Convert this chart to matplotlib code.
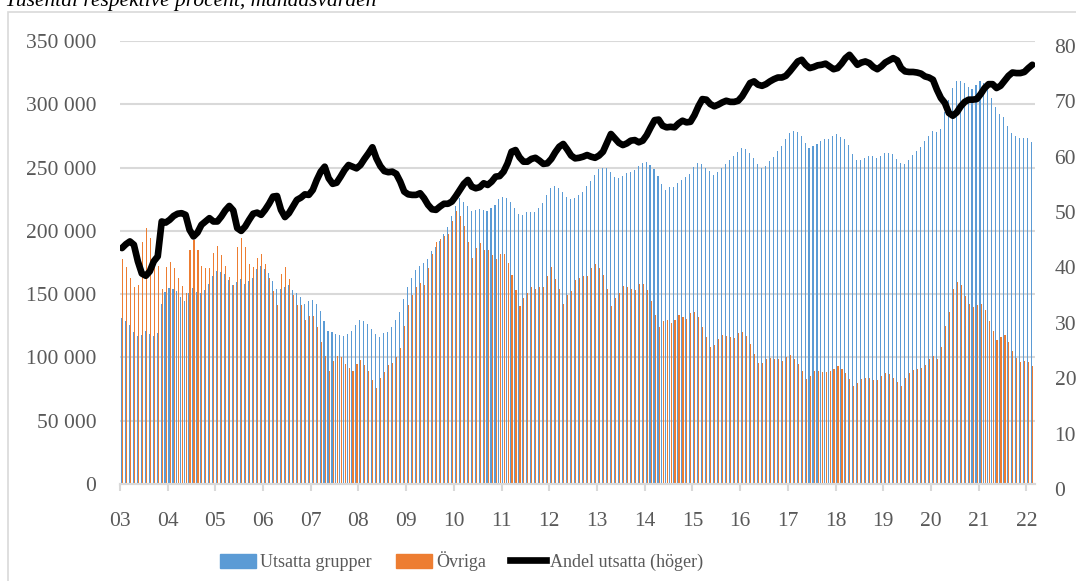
import matplotlib
matplotlib.use("Agg")
import matplotlib.pyplot as plt
import matplotlib.transforms as mtransforms
from matplotlib.patches import Rectangle
from matplotlib.lines import Line2D
from matplotlib.ticker import FuncFormatter

# Monthly values, Jan 2003 - Feb 2022 (thousands of persons / percent)
year_labels = ["03", "04", "05", "06", "07", "08", "09", "10", "11", "12",
               "13", "14", "15", "16", "17", "18", "19", "20", "21", "22"]

utsatta = [
    131.3, 128.7, 125.5, 120.0, 117.2, 117.6, 120.8, 118.4, 116.8, 119.2, 142.1, 151.6,
    154.8, 154.0, 152.4, 147.7, 144.5, 150.5, 154.8, 151.4, 150.5, 153.2, 157.9, 164.2,
    168.2, 167.1, 165.5, 161.1, 157.1, 159.2, 161.9, 157.9, 160.6, 162.7, 169.8, 172.1,
    169.8, 166.6, 160.3, 154.0, 154.0, 155.6, 157.1, 153.2, 150.5, 147.8, 142.1, 144.5,
    145.3, 142.1, 136.6, 128.7, 120.8, 120.0, 118.4, 117.6, 116.8, 118.4, 120.8, 125.5,
    129.5, 128.7, 126.3, 122.4, 118.4, 116.1, 119.2, 120.0, 124.0, 129.5, 135.8, 146.1,
    155.6, 162.7, 169.0, 172.1, 174.5, 177.7, 184.0, 187.1, 191.9, 197.4, 202.9, 211.6,
    219.5, 225.8, 222.9, 219.5, 215.8, 216.6, 217.1, 216.6, 216.0, 217.9, 220.3, 225.0,
    226.6, 225.8, 222.7, 217.9, 213.2, 212.4, 214.8, 214.8, 214.8, 217.9, 221.9, 228.2,
    233.7, 235.3, 233.7, 230.6, 226.6, 225.0, 225.8, 228.2, 230.6, 235.8, 239.3, 244.2,
    248.7, 249.5, 249.5, 246.4, 242.4, 241.6, 243.2, 245.6, 246.4, 247.9, 251.1, 253.5,
    254.3, 251.9, 248.7, 243.2, 236.9, 232.1, 234.5, 234.5, 237.4, 240.0, 242.9, 244.8,
    250.3, 253.5, 252.7, 249.5, 247.1, 244.0, 246.4, 249.5, 252.7, 255.8, 259.0, 262.1,
    265.3, 264.5, 261.4, 257.4, 252.7, 249.5, 251.1, 255.0, 258.5, 262.9, 266.9, 272.4,
    277.1, 278.7, 277.9, 274.8, 269.3, 265.3, 266.9, 268.5, 270.8, 272.4, 272.9, 274.8,
    276.1, 274.5, 272.4, 267.7, 260.6, 255.8, 255.8, 257.4, 259.0, 259.0, 257.4, 259.0,
    261.4, 261.4, 260.6, 256.6, 253.5, 252.7, 255.8, 259.8, 262.9, 266.1, 270.8, 274.8,
    278.7, 277.9, 280.3, 293.7, 303.2, 312.7, 318.2, 318.2, 316.6, 313.5, 311.9, 315.0,
    318.2, 316.6, 312.7, 304.8, 297.7, 292.2, 290.3, 282.7, 277.1, 274.8, 273.2, 273.2,
    273.2, 270.0,
]

ovriga = [
    177.7, 171.3, 162.7, 155.6, 157.0, 191.3, 202.4, 194.2, 172.1, 172.1, 154.2, 171.3,
    175.3, 170.6, 162.7, 156.3, 150.8, 184.8, 192.7, 184.8, 172.1, 170.6, 170.6, 182.4,
    187.9, 180.8, 172.1, 163.4, 157.1, 187.1, 194.2, 187.1, 173.7, 171.3, 178.4, 181.6,
    173.7, 162.7, 152.4, 141.3, 165.8, 171.3, 161.9, 149.2, 141.3, 141.3, 129.5, 132.7,
    132.7, 124.0, 112.1, 101.1, 89.2, 97.1, 101.1, 100.3, 94.8, 91.6, 89.2, 94.8,
    97.9, 94.0, 89.2, 82.1, 75.8, 83.7, 88.4, 94.0, 95.5, 100.3, 107.4, 124.8,
    141.3, 149.2, 155.6, 158.7, 157.1, 170.6, 181.6, 191.1, 193.5, 195.8, 197.4, 207.7,
    215.6, 211.6, 203.7, 191.1, 178.4, 186.3, 190.3, 184.8, 184.8, 180.8, 177.7, 181.6,
    181.6, 174.5, 165.0, 153.2, 140.5, 146.9, 150.5, 155.6, 154.0, 155.6, 155.6, 164.2,
    171.3, 161.9, 154.2, 142.1, 149.2, 152.4, 161.1, 162.7, 164.2, 164.2, 170.6, 173.7,
    170.6, 165.0, 154.0, 140.5, 146.9, 150.5, 156.3, 155.6, 154.0, 153.2, 157.7, 157.7,
    153.2, 144.5, 133.4, 124.0, 128.7, 129.5, 126.9, 129.5, 133.4, 131.9, 130.3, 135.0,
    135.8, 132.1, 124.0, 116.1, 108.2, 109.8, 114.5, 117.6, 116.8, 116.1, 115.3, 119.5,
    120.0, 116.8, 110.5, 102.6, 95.5, 95.5, 98.7, 99.5, 98.7, 98.7, 97.1, 100.3,
    101.9, 98.7, 94.8, 89.2, 82.9, 85.3, 89.2, 89.2, 88.4, 88.4, 89.2, 90.8,
    93.2, 90.8, 87.6, 82.9, 77.4, 80.0, 82.9, 83.7, 83.7, 82.1, 82.1, 85.3,
    87.6, 86.9, 83.7, 80.5, 77.4, 83.7, 87.6, 90.0, 90.8, 91.6, 94.0, 98.7,
    101.1, 98.7, 108.2, 124.8, 135.8, 154.0, 159.5, 157.1, 148.4, 142.1, 139.8, 141.3,
    142.1, 137.4, 128.7, 120.8, 113.7, 116.1, 117.6, 112.1, 105.0, 99.5, 96.3, 97.1,
    96.3, 93.2,
]

andel = [
    42.6, 43.3, 43.8, 43.2, 40.2, 38.0, 37.6, 38.4, 40.2, 41.1, 47.4, 47.2,
    47.7, 48.4, 48.8, 48.9, 48.6, 45.9, 44.7, 45.4, 46.8, 47.4, 48.0, 47.4,
    47.4, 48.3, 49.4, 50.2, 49.4, 46.2, 45.7, 46.5, 47.7, 48.8, 49.0, 48.6,
    49.5, 50.6, 51.9, 52.0, 49.5, 48.2, 48.9, 50.1, 51.3, 51.7, 52.3, 52.2,
    53.1, 54.9, 56.4, 57.3, 55.2, 54.2, 54.4, 55.5, 56.7, 57.6, 57.3, 57.0,
    57.6, 58.7, 59.7, 60.8, 58.8, 57.4, 56.5, 56.3, 56.4, 56.0, 54.6, 52.8,
    52.3, 52.2, 52.2, 52.5, 51.6, 50.4, 49.6, 49.5, 50.1, 50.6, 50.6, 51.0,
    52.0, 53.1, 54.2, 54.9, 53.7, 53.4, 53.6, 54.3, 54.0, 54.6, 55.5, 55.6,
    56.4, 57.9, 60.0, 60.3, 59.0, 58.2, 58.2, 58.7, 58.9, 58.4, 57.8, 57.9,
    58.7, 59.9, 60.9, 61.4, 60.4, 59.3, 58.8, 58.9, 59.1, 59.4, 59.1, 58.9,
    59.3, 60.0, 61.6, 63.2, 62.4, 61.6, 61.2, 61.5, 62.0, 62.1, 61.7, 62.0,
    63.0, 64.4, 65.7, 65.8, 64.7, 64.4, 64.5, 64.4, 65.1, 65.6, 65.3, 65.4,
    66.6, 68.2, 69.5, 69.4, 68.6, 68.2, 68.5, 68.9, 69.2, 69.0, 69.0, 69.2,
    70.0, 71.2, 72.4, 72.7, 72.1, 71.9, 72.2, 72.7, 73.1, 73.4, 73.4, 73.7,
    74.5, 75.4, 76.3, 76.6, 75.7, 75.1, 75.3, 75.6, 75.7, 75.9, 75.4, 74.9,
    75.1, 75.9, 76.9, 77.5, 76.6, 75.7, 76.1, 76.3, 76.0, 75.3, 74.9, 75.4,
    76.1, 76.5, 76.9, 76.5, 75.1, 74.5, 74.4, 74.4, 74.3, 74.1, 73.6, 73.4,
    73.0, 71.2, 69.7, 68.8, 67.0, 66.5, 67.1, 68.2, 69.0, 69.4, 69.4, 69.5,
    70.4, 71.5, 72.2, 72.2, 71.5, 71.9, 72.8, 73.7, 74.3, 74.2, 74.2, 74.4,
    75.1, 75.7,
]

BLUE = "#5B9BD5"
ORANGE = "#ED7D31"
GREY = "#595959"
GRID = "#D9D9D9"

plt.rcParams['font.family'] = ['Liberation Serif', 'DejaVu Serif']

fig = plt.figure(figsize=(10.76, 5.81), dpi=100)
ax = fig.add_axes([0.1115, 0.167, 0.8505, 0.7625])
ax2 = ax.twinx()

n = len(utsatta)
months = list(range(n))
ax.bar([m + 0.33 for m in months], utsatta, width=0.27, color=BLUE, linewidth=0)
ax.bar([m + 0.62 for m in months], ovriga, width=0.27, color=ORANGE, linewidth=0)

ax2.plot([m + 0.5 for m in months], andel, color="black", linewidth=4.8,
         solid_joinstyle="round", solid_capstyle="round")

ax.set_xlim(0, n + 0.2)
ax.set_ylim(0, 350)
ax2.set_ylim(0, 80)
ax.set_yticks(range(0, 351, 50))
ax2.set_yticks(range(0, 81, 10))
ax.yaxis.set_major_formatter(FuncFormatter(lambda v, p: f"{int(v * 1000):,}".replace(",", " ")))

ax.set_xticks([12 * k for k in range(len(year_labels))])
ax.set_xticklabels(year_labels)

ax.grid(axis="y", color=GRID, linewidth=1.5)
ax.set_axisbelow(True)
for a in (ax, ax2):
    for s in ("top", "left", "right"):
        a.spines[s].set_visible(False)
    a.spines["bottom"].set_color(GRID)
    a.spines["bottom"].set_linewidth(1.5)
ax.tick_params(axis="y", length=0, pad=17, labelsize=15.5, labelcolor=GREY)
ax2.tick_params(axis="y", length=0, pad=14, labelsize=15.5, labelcolor=GREY)
ax.tick_params(axis="x", length=5, width=1.5, color=GRID, pad=15, labelsize=15.5, labelcolor=GREY)

# right-hand labels sit a few pixels lower in the original
shift = mtransforms.ScaledTranslation(0, -5 / 100, fig.dpi_scale_trans)
for lab in ax2.get_yticklabels():
    lab.set_transform(lab.get_transform() + shift)

fig.text(0.005, 0.9897, "Tusental respektive procent, månadsvärden", fontsize=15.5,
         style="italic", va="baseline", ha="left", color="black")

fig.patches.append(Rectangle((8 / 1076, -0.1), 1.2, 1 - 12 / 581 + 0.1,
                             transform=fig.transFigure, fill=False,
                             edgecolor=GRID, linewidth=1.2))

handles = [Rectangle((0, 0), 1, 1, color=BLUE), Rectangle((0, 0), 1, 1, color=ORANGE),
           Line2D([0], [0], color="black", linewidth=4.8)]
leg = fig.legend(handles, ["Utsatta grupper", "Övriga", "Andel utsatta (höger)"],
                 loc="center", bbox_to_anchor=(0.429, 0.034), ncol=3, frameon=False,
                 fontsize=13, handlelength=2.0, handleheight=0.85, handletextpad=0.22,
                 columnspacing=1.35, borderaxespad=0)
for t in leg.get_texts():
    t.set_color(GREY)

fig.savefig("out.png", dpi=100)
